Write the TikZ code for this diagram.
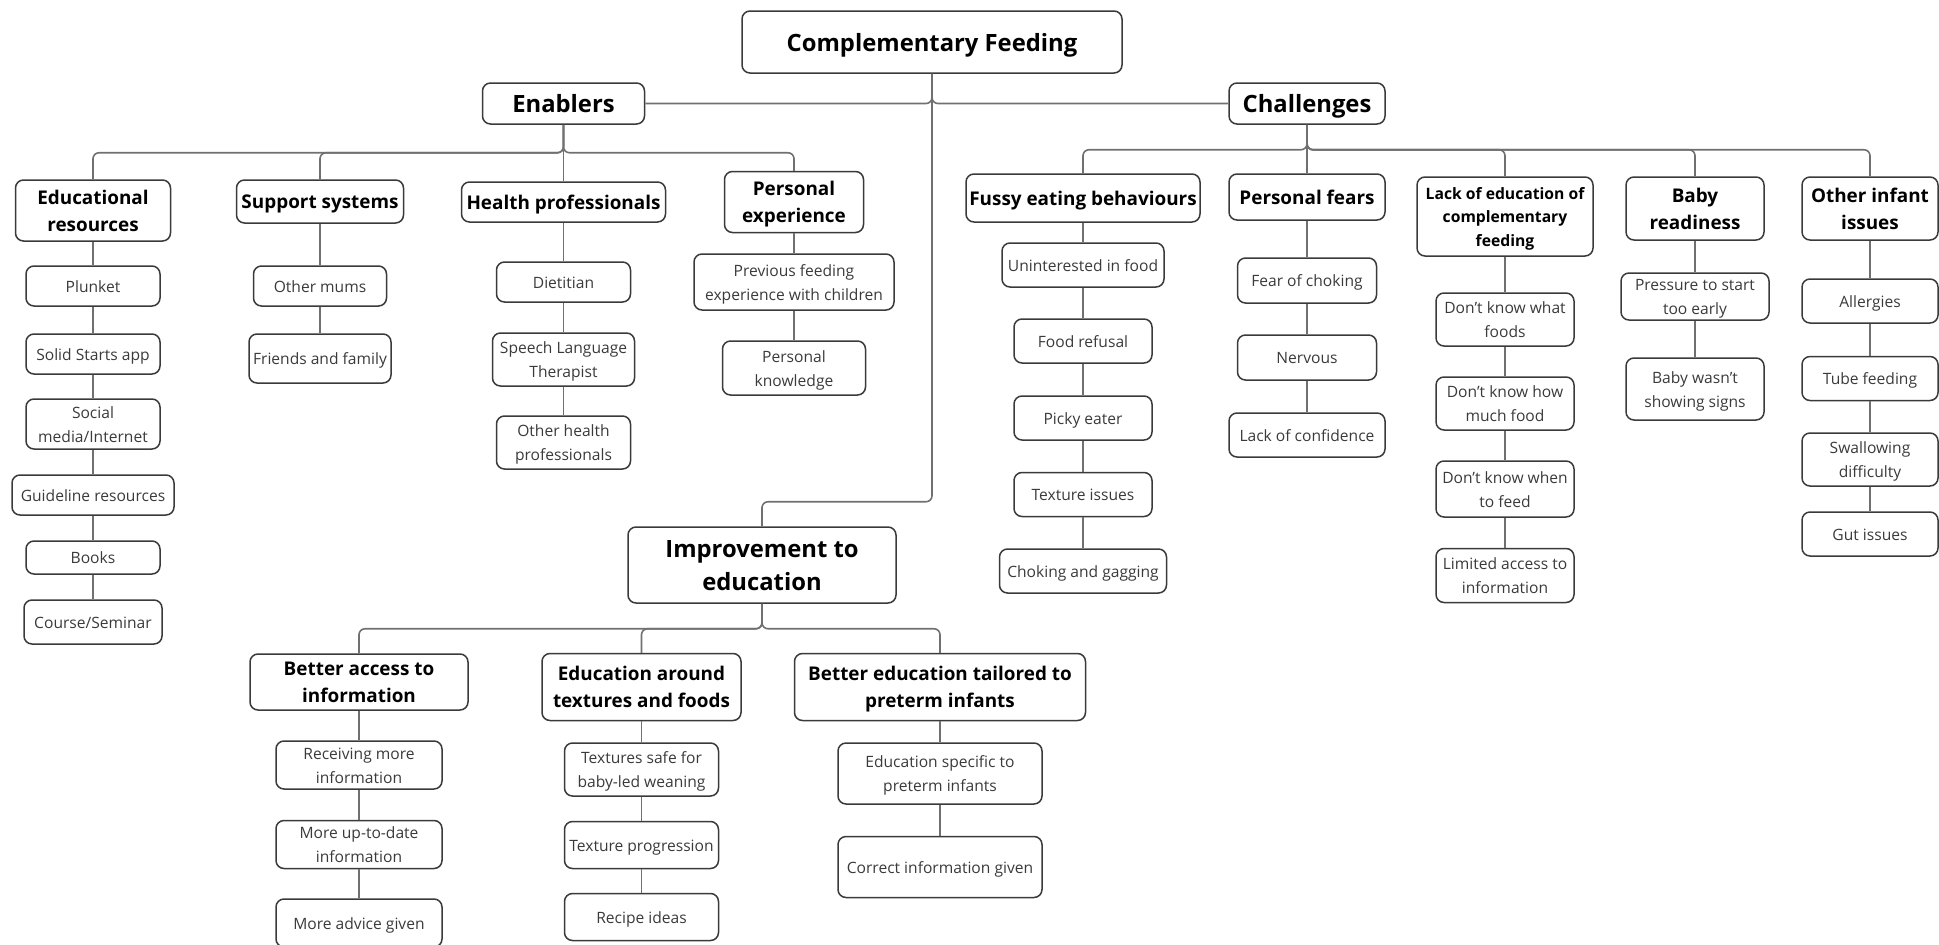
\documentclass[tikz,border=0pt]{standalone}
\usepackage{fontspec}
\setmainfont{Open Sans}
\usetikzlibrary{positioning}
\definecolor{boxline}{HTML}{3A3A3A}
\definecolor{wire}{HTML}{707070}
\definecolor{ink}{HTML}{3A3A3A}
\newcommand\linestrut{\rule[-0.293em]{0pt}{1.362em}}
\begin{document}
\begin{tikzpicture}[x=1pt,y=-1pt,
  base/.style={draw=boxline,line width=1.5pt,rounded corners=8pt,inner sep=0pt,align=center,
    execute at begin node=\linestrut,execute at end node=\linestrut},
  rootbox/.style={base,font=\bfseries\fontsize{23.8}{33}\selectfont},
  catbox/.style={base,font=\bfseries\fontsize{18.9}{27}\selectfont},
  subbox/.style={base,font=\bfseries\fontsize{15.7}{23.5}\selectfont},
  leafbox/.style={base,text=ink,font=\fontsize{15.6}{24}\selectfont},
  link/.style={draw=wire,line width=1.6pt,rounded corners=6pt}]
\useasboundingbox (0,0) rectangle (1939,945);
\node[rootbox,minimum width=380,minimum height=62] (root) at (932,42) {Complementary Feeding};
\node[rootbox,minimum width=162,minimum height=41] (enab) at (563.5,103.5) {Enablers};
\node[rootbox,minimum width=156,minimum height=41] (chal) at (1307,103.5) {Challenges};
\node[rootbox,minimum width=268,minimum height=76] (impr) at (762,565) {\linestrut Improvement to\\education};
\node[catbox,minimum width=155,minimum height=61] (edu) at (93,210.5) {\linestrut Educational\\resources};
\node[catbox,minimum width=167,minimum height=43] (sup) at (320,201.5) {Support systems};
\node[catbox,minimum width=204,minimum height=40] (hp) at (563.5,202) {Health professionals};
\node[catbox,minimum width=139,minimum height=61] (pexp) at (794,202) {\linestrut Personal\\experience};
\node[leafbox,minimum width=134,minimum height=40] (plunket) at (93,286) {Plunket};
\node[leafbox,minimum width=134,minimum height=40] (solid) at (93,354) {Solid Starts app};
\node[leafbox,minimum width=134,minimum height=50] (social) at (93,424) {\linestrut Social\\media/Internet};
\node[leafbox,minimum width=162,minimum height=40] (guide) at (93,495) {Guideline resources};
\node[leafbox,minimum width=134,minimum height=33] (books) at (93,557.5) {Books};
\node[leafbox,minimum width=138,minimum height=44] (course) at (93,622) {Course/Seminar};
\node[leafbox,minimum width=133,minimum height=40] (mums) at (320,286) {Other mums};
\node[leafbox,minimum width=142,minimum height=49] (friends) at (320,358.5) {Friends and family};
\node[leafbox,minimum width=134,minimum height=40] (diet) at (563.5,282) {Dietitian};
\node[leafbox,minimum width=142,minimum height=53] (slt) at (563.5,359.5) {\linestrut Speech Language\\Therapist};
\node[leafbox,minimum width=134,minimum height=53] (ohp) at (563.5,442.5) {\linestrut Other health\\professionals};
\node[leafbox,minimum width=200,minimum height=56] (prev) at (794,282) {\linestrut Previous feeding\\experience with children};
\node[leafbox,minimum width=143,minimum height=54] (pknow) at (794,368) {\linestrut Personal\\knowledge};
\node[catbox,minimum width=234,minimum height=48] (fussy) at (1083,198) {Fussy eating behaviours};
\node[catbox,minimum width=156,minimum height=46] (fears) at (1307,197) {Personal fears};
\node[subbox,minimum width=176,minimum height=79] (lack) at (1505,216.5) {\linestrut Lack of education of\\complementary\\feeding};
\node[catbox,minimum width=138,minimum height=63] (baby) at (1695,208.5) {\linestrut Baby\\readiness};
\node[catbox,minimum width=136,minimum height=63] (other) at (1870,208.5) {\linestrut Other infant\\issues};
\node[leafbox,minimum width=162,minimum height=44] (unint) at (1083,265) {Uninterested in food};
\node[leafbox,minimum width=138,minimum height=44] (refusal) at (1083,341) {Food refusal};
\node[leafbox,minimum width=138,minimum height=44] (picky) at (1083,418) {Picky eater};
\node[leafbox,minimum width=138,minimum height=44] (texture) at (1083,494.5) {Texture issues};
\node[leafbox,minimum width=167,minimum height=44] (choking) at (1083,571) {Choking and gagging};
\node[leafbox,minimum width=139,minimum height=45] (foc) at (1307,280.5) {Fear of choking};
\node[leafbox,minimum width=139,minimum height=45] (nervous) at (1307,357.5) {Nervous};
\node[leafbox,minimum width=156,minimum height=44] (loc) at (1307,435) {Lack of confidence};
\node[leafbox,minimum width=138,minimum height=53] (dkwhat) at (1505,319.5) {\linestrut Don't know what\\foods};
\node[leafbox,minimum width=138,minimum height=53] (dkhow) at (1505,403.5) {\linestrut Don't know how\\much food};
\node[leafbox,minimum width=138,minimum height=56] (dkwhen) at (1505,489) {\linestrut Don't know when\\to feed};
\node[leafbox,minimum width=138,minimum height=54] (limited) at (1505,575.5) {\linestrut Limited access to\\information};
\node[leafbox,minimum width=148,minimum height=47] (press) at (1695,296.5) {\linestrut Pressure to start\\too early};
\node[leafbox,minimum width=138,minimum height=62] (signs) at (1695,389) {\linestrut Baby wasn't\\showing signs};
\node[leafbox,minimum width=136,minimum height=44] (allerg) at (1870,301) {Allergies};
\node[leafbox,minimum width=136,minimum height=44] (tube) at (1870,378.5) {Tube feeding};
\node[leafbox,minimum width=136,minimum height=53] (swallow) at (1870,459.5) {\linestrut Swallowing\\difficulty};
\node[leafbox,minimum width=136,minimum height=44] (gut) at (1870,534) {Gut issues};
\node[catbox,minimum width=218,minimum height=56] (access) at (359,682) {\linestrut Better access to\\information};
\node[catbox,minimum width=199,minimum height=67] (textures) at (641.5,687) {\linestrut Education around\\textures and foods};
\node[catbox,minimum width=291,minimum height=67] (preterm) at (940,687) {\linestrut Better education tailored to\\preterm infants};
\node[leafbox,minimum width=166,minimum height=48] (recv) at (359,765) {\linestrut Receiving more\\information};
\node[leafbox,minimum width=166,minimum height=48] (update) at (359,844.5) {\linestrut More up-to-date\\information};
\node[leafbox,minimum width=166,minimum height=48] (advice) at (359,923) {More advice given};
\node[leafbox,minimum width=154,minimum height=53] (safe) at (641.5,769.5) {\linestrut Textures safe for\\baby-led weaning};
\node[leafbox,minimum width=154,minimum height=47] (prog) at (641.5,845) {Texture progression};
\node[leafbox,minimum width=154,minimum height=47] (recipe) at (641.5,917) {Recipe ideas};
\node[leafbox,minimum width=204,minimum height=61] (specific) at (940,773.5) {\linestrut Education specific to\\preterm infants};
\node[leafbox,minimum width=204,minimum height=61] (correct) at (940,867) {Correct information given};
\draw[link] (root.south) |- (enab.east);
\draw[link] (root.south) |- (chal.west);
\draw[link] (root.south) -- ++(0,428) -| (impr.north);
\foreach \c in {edu,sup,hp,pexp} \draw[link] (enab.south) -- ++(0,28) -| (\c.north);
\foreach \c in {fussy,fears,lack,baby,other} \draw[link] (chal.south) -- ++(0,25) -| (\c.north);
\foreach \c in {access,textures,preterm} \draw[link] (impr.south) -- ++(0,25) -| (\c.north);
\foreach \a/\b in {edu/plunket,plunket/solid,solid/social,social/guide,guide/books,books/course,
  sup/mums,mums/friends,hp/diet,diet/slt,slt/ohp,pexp/prev,prev/pknow,
  fussy/unint,unint/refusal,refusal/picky,picky/texture,texture/choking,
  fears/foc,foc/nervous,nervous/loc,lack/dkwhat,dkwhat/dkhow,dkhow/dkwhen,dkwhen/limited,
  baby/press,press/signs,other/allerg,allerg/tube,tube/swallow,swallow/gut,
  access/recv,recv/update,update/advice,textures/safe,safe/prog,prog/recipe,preterm/specific,specific/correct}
  \draw[link] (\a.south) -- (\b.north);
\end{tikzpicture}
\end{document}
